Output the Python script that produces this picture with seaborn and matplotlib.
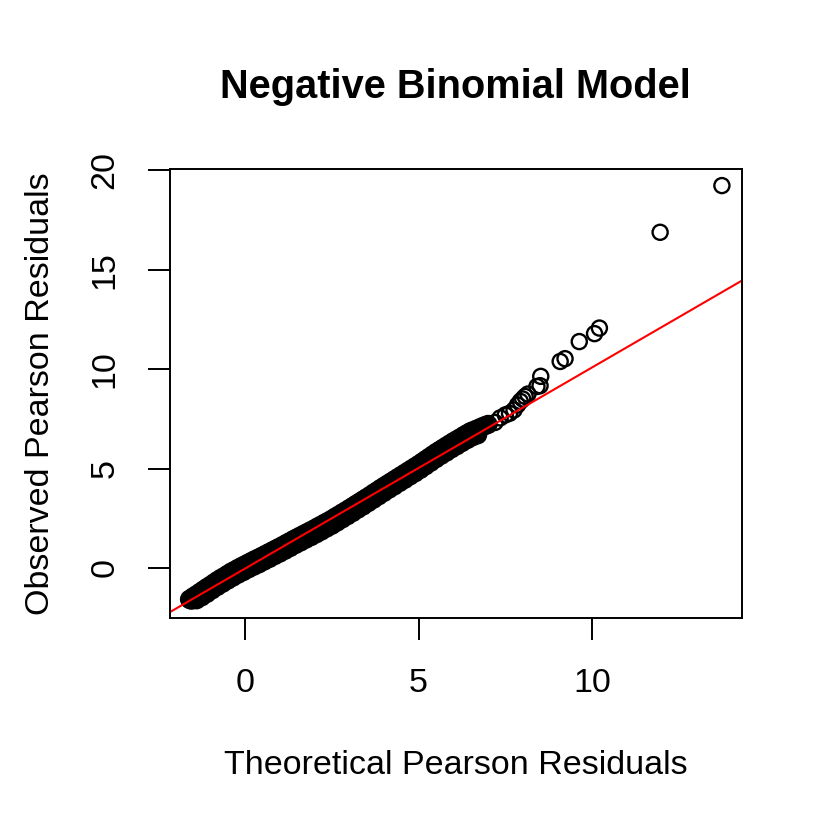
import matplotlib
matplotlib.use("Agg")
import matplotlib.pyplot as plt
import seaborn as sns
import pandas as pd

# Q-Q points (theoretical vs observed Pearson residuals)
# dense bulk of the residuals, upper edge of the band
bulk_theoretical = [
    -1.6, -1.5, -1.4, -1.3, -1.2, -1.1, -1.0, -0.9, -0.8, -0.7,
    -0.6, -0.5, -0.4, -0.3, -0.2, -0.1, 0.0, 0.1, 0.2, 0.3,
    0.4, 0.5, 0.6, 0.7, 0.8, 0.9, 1.0, 1.1, 1.2, 1.3,
    1.4, 1.5, 1.6, 1.7, 1.8, 1.9, 2.0, 2.1, 2.2, 2.3,
    2.4, 2.5, 2.6, 2.7, 2.8, 2.9, 3.0, 3.1, 3.2, 3.3,
    3.4, 3.5, 3.6, 3.7, 3.8, 3.9, 4.0, 4.1, 4.2, 4.3,
    4.4, 4.5, 4.6, 4.7, 4.8, 4.9, 5.0, 5.1, 5.2, 5.3,
    5.4, 5.5, 5.6, 5.7, 5.8, 5.9, 6.0, 6.1, 6.2, 6.3,
    6.4, 6.5, 6.6, 6.7, 6.8, 6.9, 7.0,
]
bulk_observed = [
    -1.58, -1.46, -1.35, -1.23, -1.11, -0.99, -0.88, -0.76, -0.64, -0.53,
    -0.43, -0.32, -0.21, -0.12, -0.02, 0.07, 0.16, 0.25, 0.34, 0.43,
    0.51, 0.60, 0.69, 0.78, 0.87, 0.96, 1.05, 1.14, 1.24, 1.33,
    1.43, 1.52, 1.61, 1.70, 1.79, 1.88, 1.97, 2.07, 2.16, 2.26,
    2.35, 2.45, 2.56, 2.66, 2.77, 2.87, 2.98, 3.09, 3.20, 3.31,
    3.42, 3.53, 3.64, 3.76, 3.87, 3.99, 4.10, 4.21, 4.32, 4.43,
    4.54, 4.65, 4.76, 4.87, 4.98, 5.09, 5.20, 5.32, 5.44, 5.56,
    5.68, 5.80, 5.91, 6.02, 6.13, 6.24, 6.35, 6.45, 6.55, 6.66,
    6.76, 6.86, 6.93, 7.00, 7.08, 7.15, 7.22,
]

# lower edge of the band
lower_theoretical = [
    -1.55, -1.40, -1.25, -1.10, -0.95, -0.80, -0.65, -0.50, -0.35, -0.20,
    -0.05, 0.10, 0.25, 0.40, 0.55, 0.70, 0.85, 1.00, 1.15, 1.30,
    1.45, 1.60, 1.75, 1.90, 2.05, 2.20, 2.35, 2.50, 2.65, 2.80,
    2.95, 3.10, 3.25, 3.40, 3.55, 3.70, 3.85, 4.00, 4.15, 4.30,
    4.45, 4.60, 4.75, 4.90, 5.05, 5.20, 5.35, 5.50, 5.65, 5.80,
    5.95, 6.10, 6.25, 6.40, 6.55, 6.70,
]
lower_observed = [
    -1.62, -1.60, -1.45, -1.28, -1.10, -0.93, -0.77, -0.61, -0.46, -0.31,
    -0.18, -0.04, 0.09, 0.21, 0.35, 0.48, 0.62, 0.75, 0.89, 1.03,
    1.18, 1.31, 1.45, 1.58, 1.72, 1.86, 2.01, 2.15, 2.31, 2.47,
    2.63, 2.79, 2.96, 3.12, 3.29, 3.46, 3.63, 3.80, 3.97, 4.13,
    4.30, 4.46, 4.63, 4.79, 4.96, 5.14, 5.32, 5.50, 5.67, 5.83,
    6.00, 6.15, 6.31, 6.46, 6.60, 6.70,
]

# upper tail, individual circles
tail_theoretical = [
    7.20, 7.35, 7.50, 7.62, 7.75, 7.85, 7.93, 8.00, 8.07, 8.15,
    8.41, 8.50, 8.52, 9.08, 9.22, 9.63, 10.07, 10.21, 11.96, 13.74,
]
tail_observed = [
    7.32, 7.55, 7.70, 7.78, 7.95, 8.20, 8.38, 8.50, 8.63, 8.75,
    9.13, 9.17, 9.64, 10.39, 10.53, 11.39, 11.79, 12.07, 16.89, 19.24,
]

# reference line (qqline-style fit)
line_intercept = -0.03
line_slope = 1.012

x_ticks = [0, 5, 10]
y_ticks = [0, 5, 10, 15, 20]

bulk = pd.DataFrame({
    "theoretical": bulk_theoretical + lower_theoretical,
    "observed": bulk_observed + lower_observed,
})
tail = pd.DataFrame({"theoretical": tail_theoretical, "observed": tail_observed})

sns.set_style("white")
plt.rcParams["font.family"] = ["Liberation Sans", "DejaVu Sans"]
plt.rcParams["text.color"] = "black"
plt.rcParams["axes.labelcolor"] = "black"

fig = plt.figure(figsize=(8.3, 8.3), dpi=100)
ax = fig.add_axes([0.205, 0.2554, 0.689, 0.5404])

# the bulk overlaps so heavily in the original that it reads as a solid band
sns.scatterplot(
    data=bulk, x="theoretical", y="observed", ax=ax,
    marker="o", s=115, facecolors="none", edgecolor="black", linewidth=3.2,
)
sns.scatterplot(
    data=tail, x="theoretical", y="observed", ax=ax,
    marker="o", s=118, facecolors="none", edgecolor="black", linewidth=1.7,
)
ax.axline((0, line_intercept), slope=line_slope, color="red", linewidth=1.5)

ax.set_xlim(-2.16, 14.32)
ax.set_ylim(-2.52, 20.05)
ax.set_xticks(x_ticks)
ax.set_yticks(y_ticks)
ax.set_xlabel("")
ax.set_ylabel("")
ax.tick_params(axis="both", direction="out", length=15.8, width=1.4,
               labelsize=24.5, colors="black", pad=20, left=True, bottom=True)
for lab in ax.get_yticklabels():
    lab.set_rotation(90)
    lab.set_va("center")

for sp in ax.spines.values():
    sp.set_visible(True)
    sp.set_color("black")
    sp.set_linewidth(1.4)

ax.set_xlabel("Theoretical Pearson Residuals", fontsize=24.5, va="center")
ax.xaxis.set_label_coords(0.5, -0.328)
ax.set_ylabel("Observed Pearson Residuals", fontsize=24.5, va="center")
ax.yaxis.set_label_coords(-0.227, 0.5)
fig.text(0.549, 0.895, "Negative Binomial Model", fontsize=28.6,
         fontweight="bold", ha="center", va="center")

fig.savefig("out.png", dpi=100)
